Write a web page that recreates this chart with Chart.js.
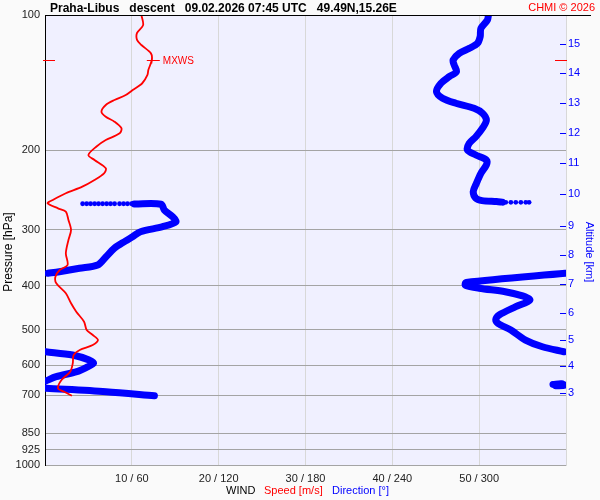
<!DOCTYPE html>
<html>
<head>
<meta charset="utf-8">
<title>Praha-Libus descent</title>
<script src="https://cdn.jsdelivr.net/npm/chart.js@4.4.1/dist/chart.umd.min.js"></script>
<style>
    body { margin: 0; background: #fafafa; }
    #wrap { position: relative; width: 600px; height: 500px; }
</style>
</head>
<body>
<div id="wrap"><canvas id="sonde" width="600" height="500"></canvas></div>
<script>
// pressure axis (hPa) and altitude axis (km at the pressure where it sits)
const pressureTicks = [100, 200, 300, 400, 500, 600, 700, 850, 925, 1000];
const altKm = [3, 4, 5, 6, 7, 8, 9, 10, 11, 12, 13, 14, 15];
const altPressure = [690.8, 602.6, 527.6, 460.2, 396.0, 341.6, 293.9, 250.3, 213.6, 183.2, 157.1, 134.4, 116.2];

// wind axis: speed m/s / direction deg
const speedTicks = [0, 10, 20, 30, 40, 50, 60];
const dirTicks = [0, 60, 120, 180, 240, 300, 360];

// wind speed profile [m/s] vs pressure
const speedP = [100, 105.3, 109.6, 113.6, 116.6, 121.7, 125.9, 132.5, 135.9, 141.8, 146.8, 150.6, 154.5, 158.5,
    164.0, 168.3, 172.6, 178.5, 183.2, 189.6, 196.2, 204.7, 210.0, 219.1, 224.8, 232.6, 240.7, 249.0,
    257.7, 262.1, 268.9, 273.6, 285.5, 300.5, 316.2, 338.5, 359.4, 368.7, 381.6, 394.6, 415.4, 437.2,
    456.4, 480.4, 501.2, 514.2, 527.6, 541.3, 555.3, 569.6, 594.3, 620.3, 647.3, 675.5, 687.3, 701.5];
const speedV = [11.1, 11.3, 10.6, 10.6, 11.1, 12.2, 12.3, 11.9, 11.8, 11.2, 10.1, 9.3, 8.0, 7.0,
    6.5, 7.0, 8.0, 8.8, 8.6, 7.0, 5.9, 5.0, 5.7, 7.0, 6.8, 5.7, 4.3, 2.4,
    0.9, 0.3, 1.5, 2.4, 2.7, 3.0, 2.7, 2.4, 2.6, 1.7, 1.2, 1.3, 2.4, 3.0,
    3.6, 4.5, 4.8, 5.5, 6.1, 5.5, 4.0, 3.3, 3.2, 2.9, 1.9, 1.5, 2.2, 3.1];

// wind direction [deg] vs pressure, null = break where it wraps past 360
const dirP = [100, 102.6, 107.1, 111.7, 115.6, 118.6, 121.7, 125.9, 129.1, 133.7, 137.1, 141.8, 148.0, 153.1,
    157.1, 161.2, 165.3, 171.2, 178.5, 186.4, 192.8, 199.5, 204.7, 210.0, 215.4, 224.8, 236.6, 247.0,
    255.5, 258.5, 259.8, 260.5, null,
    263.0, 263.4, 271.3, 280.7, 288.0, 295.4, 303.1, 311.0, 318.0, 329.9, 344.4, 359.4, 365.5, 371.9, 375.0, null,
    375.0, 393.0, 398.5, 404.8, 412.0, 421.0, 430.0, 444.9, 464.2, 475.0, 484.3, 501.2, 527.6, 546.0, 560.2, null,
    560.2, 569.6, 584.4, 594.3, 606.0, 620.3, 636.5, 650.6, null,
    662.0, 660.0, 665.0, 667.0, null,
    675.5, 687.3, 701.5];
const dirV = [306.4, 305.7, 301.2, 300.7, 298.8, 293.1, 286.2, 282.0, 282.7, 284.3, 279.3, 273.6, 270.5, 274.7,
    283.9, 296.5, 302.3, 305.0, 302.3, 297.7, 293.1, 291.9, 297.7, 305.0, 305.0, 301.2, 298.1, 295.9,
    297.7, 302.0, 312.0, 316.0, null,
    61.7, 80.2, 82.5, 88.2, 90.5, 81.3, 66.0, 60.5, 55.5, 47.9, 42.2, 36.4, 23.8, 9.9, 2.0, null,
    359.5, 291.0, 290.5, 300.0, 318.0, 330.0, 335.0, 325.3, 313.8, 311.5, 313.0, 321.9, 332.0, 343.7, 358.5, null,
    0.5, 19.1, 30.5, 33.5, 29.0, 22.0, 7.7, 0.5, null,
    351.0, 357.0, 359.0, 353.0, null,
    0.8, 42.2, 75.6];

// sparse direction readings near 260 hPa
const dirDotP = [260.8, 260.8, 260.8, 260.8, 260.8, 260.8,
    262.7, 262.7, 262.7, 262.7, 262.7, 262.7, 262.7, 262.7, 262.7, 262.7, 262.7, 262.7, 262.7];
const dirDotV = [318.4, 321.9, 325.3, 328.8, 332.2, 334.5,
    26.0, 28.8, 31.5, 34.3, 37.0, 39.8, 42.6, 45.3, 48.1, 51.5, 54.3, 57.0, 59.8];

// maximum wind speed
const mxwsP = 125.9;
const mxwsV = 12.3;

const RED = "#ff0000";
const BLUE = "#0000ff";

Chart.defaults.font.family = "'Liberation Sans', Arial, sans-serif";
Chart.defaults.font.size = 11;

function toPoints(ps, vs) {
    return ps.map((p, i) => (p === null ? { x: null, y: null } : { x: vs[i], y: p }));
}

const backgroundPlugin = {
    id: "background",
    beforeDraw(chart) {
        const ctx = chart.ctx;
        const a = chart.chartArea;
        ctx.save();
        ctx.fillStyle = "#fafafa";
        ctx.fillRect(0, 0, chart.width, chart.height);
        ctx.fillStyle = "#f0f0ff";
        ctx.fillRect(a.left, a.top, a.right - a.left, a.bottom - a.top);
        ctx.restore();
    }
};

const decorPlugin = {
    id: "decor",
    afterDraw(chart) {
        const ctx = chart.ctx;
        const a = chart.chartArea;
        const yScale = chart.scales.y;
        const xScale = chart.scales.x;
        const alt = chart.scales.alt;
        ctx.save();

        // top frame line
        ctx.strokeStyle = "#000";
        ctx.lineWidth = 1;
        ctx.beginPath();
        ctx.moveTo(a.left, a.top + 0.5);
        ctx.lineTo(591, a.top + 0.5);
        ctx.stroke();

        // altitude ticks inside right edge
        ctx.strokeStyle = BLUE;
        alt.ticks.forEach(t => {
            const y = Math.round(alt.getPixelForValue(t.value)) + 0.5;
            ctx.beginPath();
            ctx.moveTo(a.right - 6, y);
            ctx.lineTo(a.right, y);
            ctx.stroke();
        });

        // MXWS markers
        const my = Math.round(yScale.getPixelForValue(mxwsP)) + 0.5;
        const mx = xScale.getPixelForValue(mxwsV);
        ctx.strokeStyle = RED;
        ctx.beginPath();
        ctx.moveTo(a.left - 2, my);
        ctx.lineTo(a.left + 10, my);
        ctx.moveTo(a.right - 11, my);
        ctx.lineTo(a.right + 1, my);
        ctx.moveTo(mx - 5, my);
        ctx.lineTo(mx + 8, my);
        ctx.moveTo(mx, my - 3);
        ctx.lineTo(mx, my + 3);
        ctx.stroke();
        ctx.fillStyle = RED;
        ctx.font = "10px 'Liberation Sans', Arial, sans-serif";
        ctx.textBaseline = "middle";
        ctx.fillText("MXWS", mx + 11, my + 1);

        // header
        ctx.textBaseline = "alphabetic";
        ctx.fillStyle = "#000";
        ctx.font = "bold 12px 'Liberation Sans', Arial, sans-serif";
        ctx.textAlign = "left";
        ctx.fillText("Praha-Libus   descent   09.02.2026 07:45 UTC   49.49N,15.26E", 50, 12);
        ctx.fillStyle = RED;
        ctx.font = "11px 'Liberation Sans', Arial, sans-serif";
        ctx.textAlign = "right";
        ctx.fillText("CHMI \u00a9 2026", 595, 11);

        // bottom legend
        ctx.textAlign = "left";
        ctx.fillStyle = "#000";
        ctx.fillText("WIND", 226, 494);
        ctx.fillStyle = RED;
        ctx.fillText("Speed [m/s]", 264, 494);
        ctx.fillStyle = BLUE;
        ctx.fillText("Direction [\u00b0]", 332, 494);

        // axis titles
        ctx.textAlign = "center";
        ctx.textBaseline = "middle";
        ctx.save();
        ctx.translate(9, 252);
        ctx.rotate(-Math.PI / 2);
        ctx.fillStyle = "#000";
        ctx.font = "12px 'Liberation Sans', Arial, sans-serif";
        ctx.fillText("Pressure [hPa]", 0, 0);
        ctx.restore();
        ctx.save();
        ctx.translate(589, 252);
        ctx.rotate(Math.PI / 2);
        ctx.fillStyle = BLUE;
        ctx.font = "11px 'Liberation Sans', Arial, sans-serif";
        ctx.fillText("Altitude [km]", 0, 0);
        ctx.restore();

        ctx.restore();
    }
};

const ctx = document.getElementById("sonde").getContext("2d");
const chart = new Chart(ctx, {
    type: "scatter",
    data: {
        datasets: [
            {
                label: "Speed",
                data: toPoints(speedP, speedV),
                xAxisID: "x",
                yAxisID: "y",
                showLine: true,
                borderColor: RED,
                borderWidth: 1.8,
                pointRadius: 0,
                tension: 0.3,
                spanGaps: false
            },
            {
                label: "Direction",
                data: toPoints(dirP, dirV),
                xAxisID: "xDir",
                yAxisID: "y",
                showLine: true,
                borderColor: BLUE,
                borderWidth: 7,
                borderCapStyle: "round",
                borderJoinStyle: "round",
                pointRadius: 0,
                tension: 0.3,
                spanGaps: false
            },
            {
                label: "Direction sparse",
                data: toPoints(dirDotP, dirDotV),
                xAxisID: "xDir",
                yAxisID: "y",
                showLine: false,
                backgroundColor: BLUE,
                borderColor: BLUE,
                borderWidth: 0,
                pointRadius: 2.4
            }
        ]
    },
    options: {
        responsive: false,
        animation: false,
        layout: { padding: { top: 15, left: 0, right: 0, bottom: 0 } },
        plugins: {
            legend: { display: false },
            tooltip: { enabled: false }
        },
        scales: {
            x: {
                type: "linear",
                position: "bottom",
                min: 0,
                max: 60,
                afterBuildTicks: s => { s.ticks = speedTicks.map(v => ({ value: v })); },
                afterFit: s => { s.height = 35; },
                grid: {
                    color: c => (c.tick && c.tick.value === 0 ? "rgba(0,0,0,0)" : "#d8d8d8"),
                    drawTicks: false
                },
                border: { display: false },
                ticks: {
                    autoSkip: false,
                    maxRotation: 0,
                    padding: 7,
                    color: "#222",
                    font: { size: 11 },
                    callback: (v, i) => (v === 0 || v === 60 ? "" : speedTicks[i] + " / " + dirTicks[i])
                }
            },
            xDir: {
                type: "linear",
                position: "bottom",
                display: false,
                min: 0,
                max: 360
            },
            y: {
                type: "logarithmic",
                position: "left",
                reverse: true,
                min: 100,
                max: 1000,
                afterBuildTicks: s => { s.ticks = pressureTicks.map(v => ({ value: v })); },
                afterFit: s => { s.width = 45; },
                grid: {
                    color: c => (c.tick && c.tick.value === 100 ? "rgba(0,0,0,0)" : "#a4a4a4"),
                    drawTicks: false
                },
                border: { display: true, color: "#000", width: 1 },
                ticks: {
                    autoSkip: false,
                    padding: 5,
                    color: "#222",
                    font: { size: 11 },
                    callback: v => String(v)
                }
            },
            alt: {
                type: "logarithmic",
                position: "right",
                reverse: true,
                min: 100,
                max: 1000,
                afterBuildTicks: s => { s.ticks = altPressure.map(v => ({ value: v })); },
                afterFit: s => { s.width = 34; },
                grid: { drawOnChartArea: false, drawTicks: false },
                border: { display: true, color: "#d8d8d8", width: 1 },
                ticks: {
                    autoSkip: false,
                    padding: 2,
                    color: BLUE,
                    font: { size: 11 },
                    callback: (v, i) => String(altKm[i])
                }
            }
        }
    },
    plugins: [backgroundPlugin, decorPlugin]
});
</script>
</body>
</html>
